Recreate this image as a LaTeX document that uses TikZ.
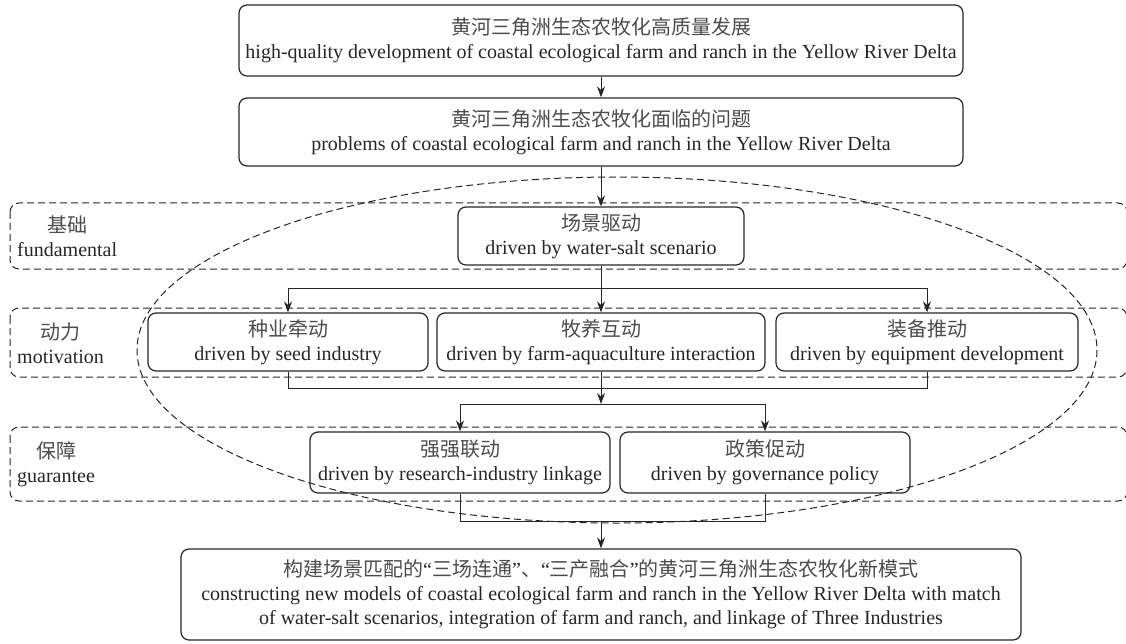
\documentclass[tikz,border=0pt]{standalone}
\usepackage{fontspec}
\setmainfont{Liberation Serif}
\newfontfamily\cjk{Noto Sans CJK SC}
\usetikzlibrary{arrows.meta}

\begin{document}
\begin{tikzpicture}[x=1pt,y=-1pt,
    box/.style={draw=black!85,line width=1.2pt,rounded corners=8pt,inner sep=0pt,align=center,text=black!85,font=\fontsize{20}{24}\selectfont},
    band/.style={draw=black!85,line width=1pt,dash pattern=on 7pt off 4pt,rounded corners=9pt},
    tag/.style={anchor=west,align=center,inner sep=0pt,text=black!85,font=\fontsize{20}{24}\selectfont},
    arr/.style={-{Stealth[length=11pt,width=8pt]},line width=1pt,draw=black!85}]
    \useasboundingbox (0,0) rectangle (1126,644);
    %bands
    \draw [band] (10,203) rectangle (1127,269);
    \draw [band] (10,308) rectangle (1127,377);
    \draw [band] (10,427) rectangle (1127,501);
    \node [tag] (t1) at (17,236) {{\cjk\color{black!70}基础}\\fundamental};
    \node [tag] (t2) at (17,343) {{\cjk\color{black!70}动力}\\motivation};
    \node [tag] (t3) at (17,464) {{\cjk\color{black!70}保障}\\guarantee};
    %boxes
    \node [box,minimum width=724,minimum height=71] (top) at (601,40.5) {{\cjk\color{black!70}黄河三角洲生态农牧化高质量发展}\\high-quality development of coastal ecological farm and ranch in the Yellow River Delta};
    \node [box,minimum width=724,minimum height=68] (prob) at (601,132) {{\cjk\color{black!70}黄河三角洲生态农牧化面临的问题}\\problems of coastal ecological farm and ranch in the Yellow River Delta};
    \node [box,minimum width=286,minimum height=58] (scene) at (601,236) {{\cjk\color{black!70}场景驱动}\\driven by water-salt scenario};
    \node [box,minimum width=280,minimum height=58] (seed) at (288,342) {{\cjk\color{black!70}种业牵动}\\driven by seed industry};
    \node [box,minimum width=328,minimum height=58] (farm) at (601,342) {{\cjk\color{black!70}牧养互动}\\driven by farm-aquaculture interaction};
    \node [box,minimum width=302,minimum height=58] (equip) at (927,342) {{\cjk\color{black!70}装备推动}\\driven by equipment development};
    \node [box,minimum width=300,minimum height=61] (res) at (460,462.5) {{\cjk\color{black!70}强强联动}\\driven by research-industry linkage};
    \node [box,minimum width=290,minimum height=61] (gov) at (765,462.5) {{\cjk\color{black!70}政策促动}\\driven by governance policy};
    \node [box,minimum width=840,minimum height=91] (goal) at (601,594.5) {{\color{black!70}\cjk 构建场景匹配的}“{\cjk\color{black!70}三场连通}”{\cjk\color{black!70}、}“{\cjk\color{black!70}三产融合}”{\cjk\color{black!70}的黄河三角洲生态农牧化新模式}\\constructing new models of coastal ecological farm and ranch in the Yellow River Delta with match\\of water-salt scenarios, integration of farm and ranch, and linkage of Three Industries};
    %links
    \coordinate (m1) at (601,404);
    \coordinate (m2) at (601,521);
    \draw [arr] (top) -- (prob);
    \draw [arr] (prob) -- (scene);
    \draw [arr] (scene.south) -- ++(0,23) -| (seed.north);
    \draw [arr] (scene.south) -- ++(0,23) -| (equip.north);
    \draw [arr] (scene) -- (farm);
    \draw [line width=1pt,black!85] (seed.south) -- ++(0,17) -| (equip.south);
    \draw [arr] (farm) -- (m1);
    \draw [arr] (m1) -| (res);
    \draw [arr] (m1) -| (gov);
    \draw [line width=1pt,black!85] (res.south) -- ++(0,28) -| (gov.south);
    \draw [arr] (m2) -- (goal);
    %ellipse
    \draw [line width=1pt,black!85,dash pattern=on 7pt off 4pt] (617,350) ellipse [x radius=480, y radius=173];
\end{tikzpicture}
\end{document}
